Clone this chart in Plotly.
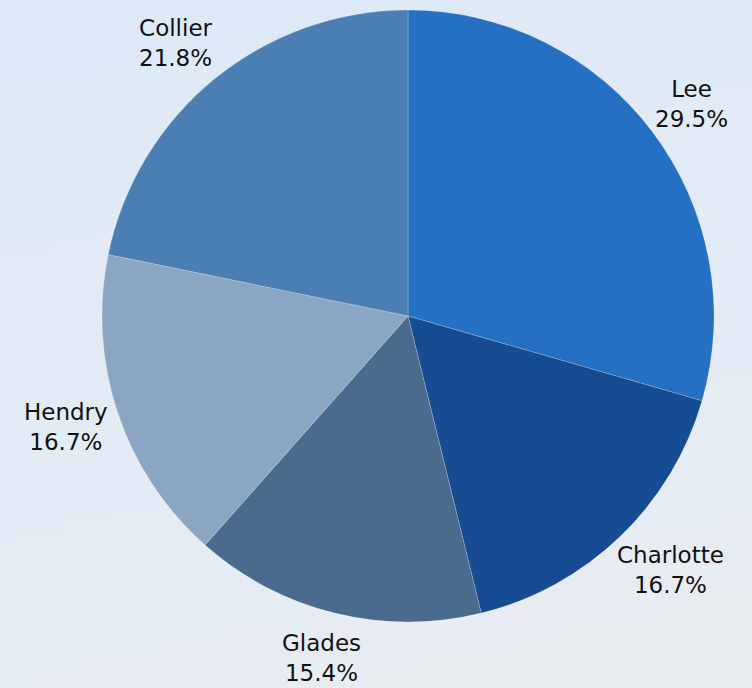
import plotly.graph_objects as go
import zlib, struct, base64, math

counties = ["Lee", "Charlotte", "Glades", "Hendry", "Collier"]
shares = [29.5, 16.7, 15.4, 16.7, 21.8]
slice_colors = ["#2570c2", "#174b92", "#4a6a8e", "#8aa6c2", "#4b7fb3"]
label_lines = [[c, f"{v:.1f}%"] for c, v in zip(counties, shares)]

# background gradient as a small PNG data URI
def gradient_png(w=64, h=64):
    top = (221, 233, 247)
    bot = (233, 237, 242)
    rows = b""
    for y in range(h):
        rows += b"\x00"
        for x in range(w):
            t = min(1.0, max(0.0, (y / (h - 1)) * 0.8 + (x / (w - 1)) * 0.2))
            rows += bytes(int(round(top[i] + (bot[i] - top[i]) * t)) for i in range(3))
    def chunk(tag, data):
        c = struct.pack(">I", len(data)) + tag + data
        return c + struct.pack(">I", zlib.crc32(tag + data) & 0xffffffff)
    png = b"\x89PNG\r\n\x1a\n"
    png += chunk(b"IHDR", struct.pack(">IIBBBBB", w, h, 8, 2, 0, 0, 0))
    png += chunk(b"IDAT", zlib.compress(rows))
    png += chunk(b"IEND", b"")
    return "data:image/png;base64," + base64.b64encode(png).decode()

W, H = 752, 688
cx, cy, r = 408, 316, 306
label_r = 323      # anchor radius for label boxes
char_w, box_h = 12.5, 58

fig = go.Figure(go.Pie(
    labels=counties,
    values=shares,
    textinfo="none",
    sort=False,
    direction="clockwise",
    rotation=0,
    marker=dict(colors=slice_colors, line=dict(color="rgba(255,255,255,0.35)", width=0.6)),
    domain=dict(x=[(cx - r) / W, (cx + r) / W], y=[1 - (cy + r) / H, 1 - (cy - r) / H]),
    showlegend=False,
    hoverinfo="label+percent",
))

# labels placed outside each slice's mid-angle, box pushed outward by its size
total = sum(shares)
annotations = []
cum = 0.0
for lines, v in zip(label_lines, shares):
    mid = (cum + v / 2) / total * 2 * math.pi
    cum += v
    vx, vy = math.sin(mid), -math.cos(mid)
    bw = char_w * max(len(s) for s in lines)
    px = cx + label_r * vx + bw / 2 * vx
    py = cy + label_r * vy + box_h / 2 * vy
    annotations.append(dict(
        text="<br>".join(lines), x=px / W, y=1 - py / H, xref="paper", yref="paper",
        showarrow=False, xanchor="center", yanchor="middle", align="center",
        font=dict(family="DejaVu Sans", size=23, color="#111111"),
    ))

fig.update_layout(
    width=W, height=H,
    margin=dict(l=0, r=0, t=0, b=0),
    paper_bgcolor="#e4ebf4",
    annotations=annotations,
    images=[dict(source=gradient_png(), xref="paper", yref="paper", x=0, y=1,
                 sizex=1, sizey=1, sizing="stretch", layer="below",
                 xanchor="left", yanchor="top")],
)

fig.write_html("out.html")
